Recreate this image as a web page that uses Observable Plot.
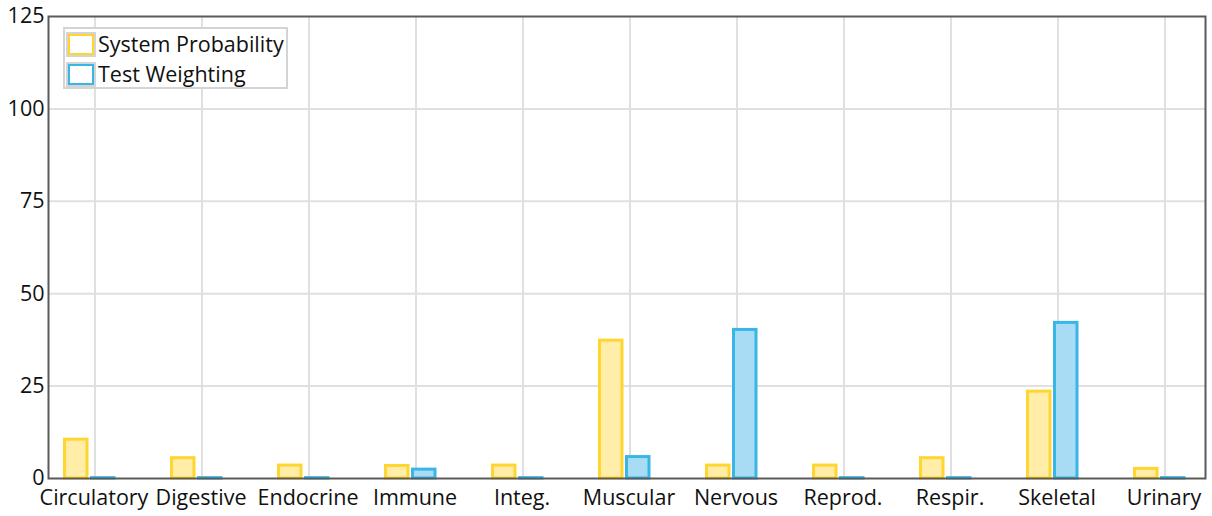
<!DOCTYPE html>
<html>
<head>
<meta charset="utf-8">
<script src="https://cdn.jsdelivr.net/npm/d3@7"></script>
<script src="https://cdn.jsdelivr.net/npm/@observablehq/plot@0.6"></script>
<style>
  html, body { margin: 0; padding: 0; background: #fff; }
  #wrap { position: relative; width: 1212px; height: 516px; font-family: "Open Sans", sans-serif; }
  #legend { position: absolute; left: 63px; top: 27px; width: 221px; height: 58px; border: 2px solid #d4d4d4; background: #fff; }
  .item { position: absolute; left: 3px; display: flex; align-items: center; font-size: 21.5px; color: #111; line-height: 26px; }
  .sw { width: 22px; height: 17px; border: 2px solid; box-shadow: 0 0 0 2px #d4d4d4; margin-right: 4px; }
</style>
</head>
<body>
<div id="wrap"></div>
<script>
const categories = ["Circulatory","Digestive","Endocrine","Immune","Integ.","Muscular","Nervous","Reprod.","Respir.","Skeletal","Urinary"];
const systemProbability = [10.5, 5.5, 3.5, 3.4, 3.5, 37.3, 3.5, 3.5, 5.5, 23.5, 2.6];
const testWeighting = [0.1, 0.1, 0.1, 2.4, 0.1, 5.8, 40.2, 0.1, 0.1, 42.1, 0.1];
const seriesNames = ["System Probability", "Test Weighting"];
const yTicks = [0, 25, 50, 75, 100, 125];

const rows = categories.map((c, i) => ({category: c, sys: systemProbability[i], test: testWeighting[i]}));

const yellowStroke = "#FFD530", yellowFill = "#FFEDA8";
const blueStroke = "#38B6E6", blueFill = "#A8DCF4";

const chart = Plot.plot({
  width: 1212,
  height: 516,
  marginLeft: 48,
  marginRight: 7,
  marginTop: 16,
  marginBottom: 38,
  style: {fontFamily: "Open Sans, sans-serif", fontSize: "21.5px", color: "#111", background: "#fff"},
  x: {type: "band", domain: categories, range: [60, 1188], paddingInner: 0.52, paddingOuter: 0, label: null},
  y: {domain: [0, 125], label: null},
  marks: [
    Plot.gridY(yTicks.slice(1, -1), {stroke: "#e0e0e0", strokeOpacity: 1, strokeWidth: 2}),
    Plot.gridX({stroke: "#e0e0e0", strokeOpacity: 1, strokeWidth: 2, dx: 6}),
    Plot.barY(rows, {x: "category", y: "sys", fill: yellowFill, stroke: yellowStroke, strokeWidth: 3, insetLeft: 1.5, insetRight: 27}),
    Plot.barY(rows, {x: "category", y: "test", fill: blueFill, stroke: blueStroke, strokeWidth: 3, insetLeft: 28.5, insetRight: 0}),
    Plot.axisX({tickSize: 0, tickPadding: 11, fontSize: 21.5, dx: 5}),
    Plot.axisY({ticks: yTicks, tickSize: 0, tickPadding: 4, fontSize: 21.5}),
    Plot.frame({stroke: "#5a5a5a", strokeWidth: 2})
  ]
});

const wrap = document.getElementById("wrap");
wrap.appendChild(chart);

const legend = document.createElement("div");
legend.id = "legend";
const colors = [yellowStroke, blueStroke];
seriesNames.forEach((name, i) => {
  const item = document.createElement("div");
  item.className = "item";
  item.style.top = (i === 0 ? 2 : 32) + "px";
  const sw = document.createElement("span");
  sw.className = "sw";
  sw.style.borderColor = colors[i];
  const t = document.createElement("span");
  t.textContent = name;
  item.appendChild(sw);
  item.appendChild(t);
  legend.appendChild(item);
});
wrap.appendChild(legend);
</script>
</body>
</html>
